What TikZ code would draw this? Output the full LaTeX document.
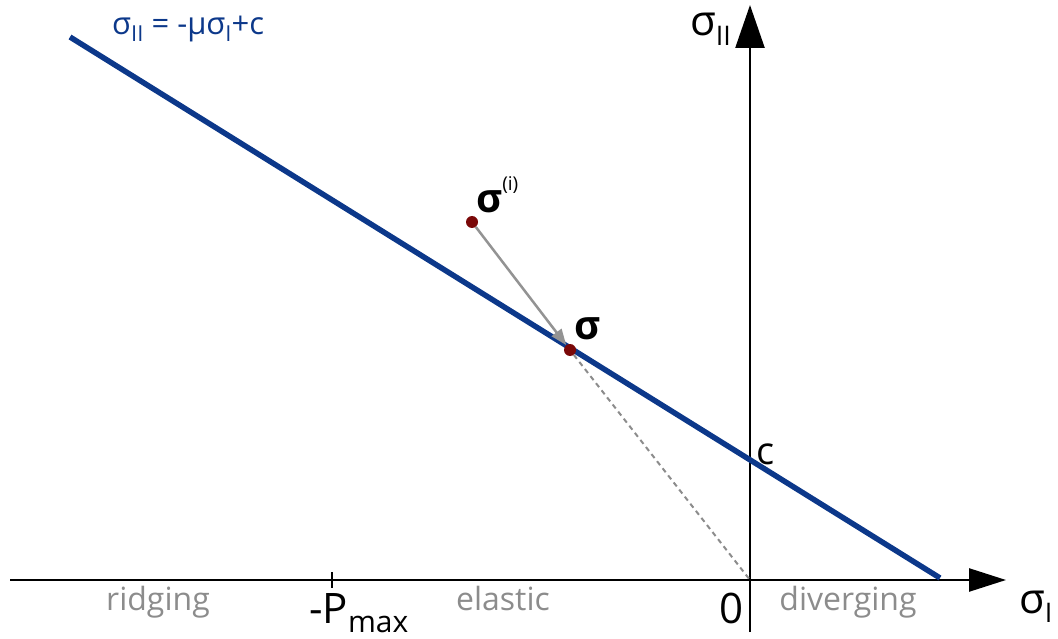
\documentclass[tikz,border=0pt]{standalone}
\usepackage{fontspec}
\setmainfont{Open Sans}
\usetikzlibrary{arrows.meta}
\definecolor{lineblue}{RGB}{12,56,138}
\definecolor{dotred}{RGB}{122,8,8}
\definecolor{labelgray}{RGB}{140,140,140}
\newcommand{\fs}[1]{\fontsize{#1}{#1}\selectfont}
\newcommand{\lowtxt}[2]{\raisebox{-0.22em}{\fs{#1}#2}}
\begin{document}
\begin{tikzpicture}[x=1pt, y=-1pt, every node/.style={inner sep=0pt, font=\fs{42}}]
  \useasboundingbox (0,0) rectangle (1058,639);
  \tikzset{
    axis/.style={line width=2.5pt, -{Triangle[length=37pt, width=23pt]}},
    dot/.style={circle, fill=dotred, minimum size=12pt},
    zone/.style={text=labelgray, font=\fs{32}}
  }
  % axes
  \coordinate (xl) at (10,580);
  \coordinate (xr) at (1006,580);
  \coordinate (yb) at (750,632);
  \coordinate (yt) at (750,5);
  \coordinate (O) at (750,580);
  \draw[axis] (xl) -- (xr);
  \draw[axis, -{Triangle[length=43pt, width=29pt]}] (yb) -- (yt);
  \draw[line width=2pt] (332,572) -- (332,588);
  % yield line
  \draw[lineblue, line width=5.5pt] (70,37) -- (940,578);
  \node[anchor=base west, text=lineblue, font=\fs{31}] (eq) at (112,35)
    {σ\lowtxt{22}{II} = -μσ\lowtxt{22}{I}+c};
  % stress points
  \node[dot] (strial) at (472,222) {};
  \node[dot] (sproj) at (570,350) {};
  \draw[gray!85, line width=2.5pt, -{Triangle[length=16pt, width=12pt]}]
    (strial) -- (sproj);
  \draw[labelgray, line width=2pt, dash pattern=on 5pt off 4pt] (sproj) -- (O);
  \node[anchor=base west, font=\bfseries\fs{40}] (ltrial) at (476,213)
    {σ\raisebox{0.55em}{\mdseries\fs{19}(i)}};
  \node[anchor=base west, font=\bfseries\fs{40}] (lproj) at (574,339) {σ};
  % axis labels
  \node[anchor=base east] (lyax) at (731,36) {σ\lowtxt{27}{II}};
  \node[anchor=base west] (lxax) at (1019,613) {σ\lowtxt{27}{I}};
  \node[anchor=base west, font=\fs{38}] (lc) at (756,464) {c};
  \node[anchor=base, font=\fs{42}] (lzero) at (731,623) {0};
  \node[anchor=base west, font=\fs{42}] (lpmax) at (309,623)
    {-P\lowtxt{30}{max}};
  % regimes
  \node[zone, anchor=base] (lridge) at (158,610) {ridging};
  \node[zone, anchor=base] (lelast) at (503,610) {elastic};
  \node[zone, anchor=base] (ldiver) at (848,610) {diverging};
\end{tikzpicture}
\end{document}
